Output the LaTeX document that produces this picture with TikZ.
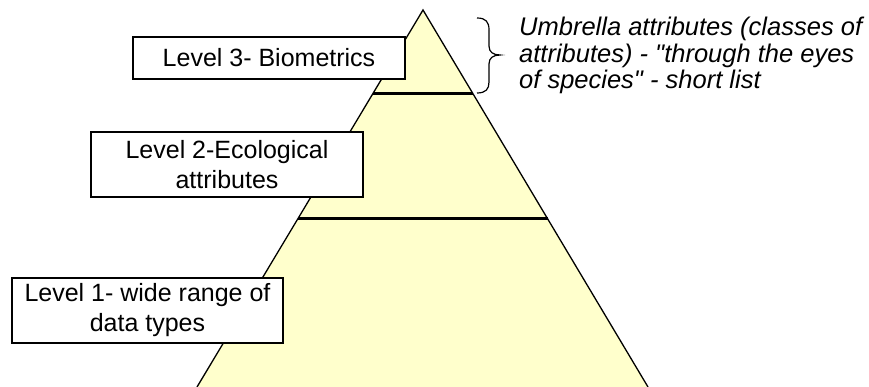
\documentclass[tikz,border=0pt]{standalone}
\usepackage{fontspec}
\setmainfont{Liberation Sans}
\definecolor{pyrfill}{RGB}{255,255,204}
\newcommand{\sqdq}{\XeTeXglyph\XeTeXglyphindex "quotedbl"\relax}
\begin{document}
\begin{tikzpicture}[x=1pt,y=-1pt,
  box/.style={draw=black,fill=white,line width=1.2pt,inner sep=0pt,align=center,
    font=\fontsize{25}{30}\selectfont},
  lvl/.style={draw=black,line width=3pt},
  edge/.style={draw=black,line width=1.3pt}]
\useasboundingbox (0,0) rectangle (869,387);
\coordinate (apex) at (423,10);
\coordinate (bl) at (197,387);
\coordinate (br) at (648,387);
\coordinate (a1) at (373,94);
\coordinate (b1) at (473,94);
\coordinate (a2) at (298,219);
\coordinate (b2) at (548,219);
\fill[pyrfill] (bl) -- (apex) -- (br) -- cycle;
\draw[edge] (bl) -- (apex) -- (br);
\draw[lvl] (a1) -- (b1);
\draw[lvl] (a2) -- (b2);
\node[box,minimum width=272pt,minimum height=42pt] (l3) at (269,58) {Level 3- Biometrics};
\node[box,minimum width=272pt,minimum height=65pt] (l2) at (227,164.5) {Level 2-Ecological\\attributes};
\node[box,minimum width=271pt,minimum height=65pt] (l1) at (147.5,310.5) {Level 1- wide range of\\data types};
\coordinate (bt) at (477,18);
\coordinate (bb) at (477,93);
\coordinate (tip) at (500,55);
\draw[line width=1.2pt] (bt) .. controls (486,18) and (489,22) .. (489,30) -- (489,46)
  .. controls (489,52) and (493,55) .. (tip)
  .. controls (493,55) and (489,58) .. (489,64) -- (489,82)
  .. controls (489,89) and (486,93) .. (bb);
\node[anchor=west,align=left,inner sep=0pt,font=\itshape\fontsize{25.5}{26.5}\selectfont] (umb) at (519,55.5)
  {Umbrella attributes (classes of\\attributes) - \sqdq through the eyes\\of species\sqdq{} - short list};
\end{tikzpicture}
\end{document}
